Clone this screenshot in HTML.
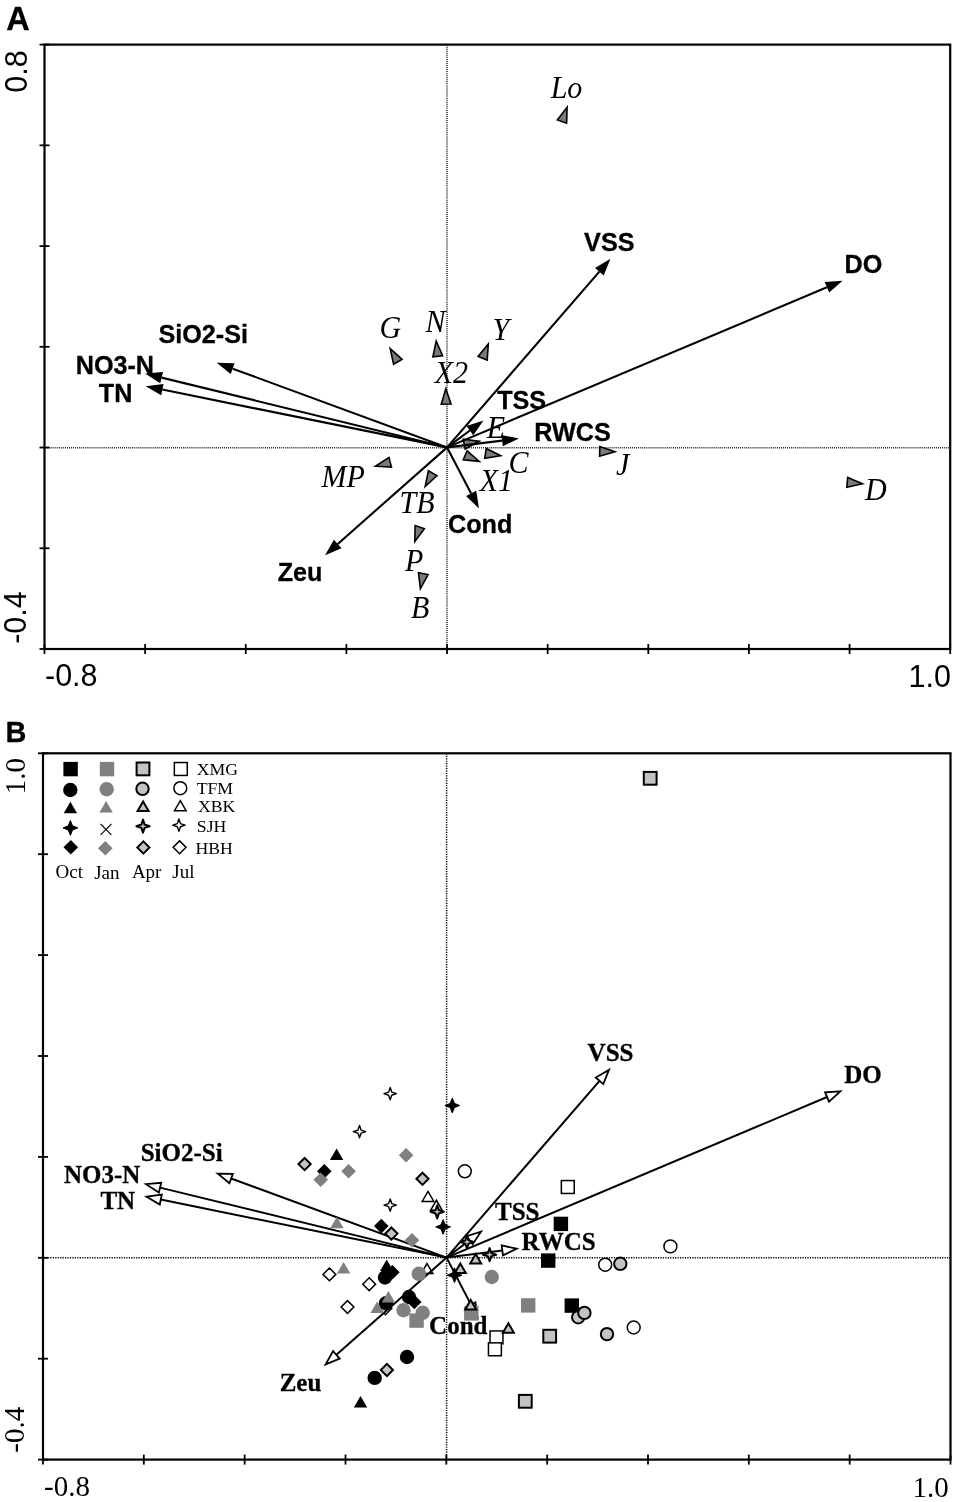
<!DOCTYPE html>
<html><head><meta charset="utf-8"><title>CCA biplot</title>
<style>html,body{margin:0;padding:0;background:#fff;width:955px;height:1502px;overflow:hidden}svg{display:block;filter:grayscale(1)}</style>
</head><body>
<svg width="955" height="1502" viewBox="0 0 955 1502">
<rect x="0" y="0" width="955" height="1502" fill="#fff"/>
<line x1="447.00" y1="44.60" x2="447.00" y2="649.00" stroke="#222" stroke-width="1.50" stroke-dasharray="1 1.04"/>
<line x1="44.50" y1="447.70" x2="950.20" y2="447.70" stroke="#222" stroke-width="1.50" stroke-dasharray="1 1.04"/>
<rect x="44.50" y="44.60" width="905.70" height="604.40" fill="none" stroke="#000" stroke-width="2.20"/>
<line x1="44.50" y1="644.00" x2="44.50" y2="654.00" stroke="#000" stroke-width="1.80" />
<line x1="145.13" y1="644.00" x2="145.13" y2="654.00" stroke="#000" stroke-width="1.80" />
<line x1="245.77" y1="644.00" x2="245.77" y2="654.00" stroke="#000" stroke-width="1.80" />
<line x1="346.40" y1="644.00" x2="346.40" y2="654.00" stroke="#000" stroke-width="1.80" />
<line x1="447.03" y1="644.00" x2="447.03" y2="654.00" stroke="#000" stroke-width="1.80" />
<line x1="547.67" y1="644.00" x2="547.67" y2="654.00" stroke="#000" stroke-width="1.80" />
<line x1="648.30" y1="644.00" x2="648.30" y2="654.00" stroke="#000" stroke-width="1.80" />
<line x1="748.93" y1="644.00" x2="748.93" y2="654.00" stroke="#000" stroke-width="1.80" />
<line x1="849.57" y1="644.00" x2="849.57" y2="654.00" stroke="#000" stroke-width="1.80" />
<line x1="950.20" y1="644.00" x2="950.20" y2="654.00" stroke="#000" stroke-width="1.80" />
<line x1="39.50" y1="44.60" x2="49.50" y2="44.60" stroke="#000" stroke-width="1.80" />
<line x1="39.50" y1="145.33" x2="49.50" y2="145.33" stroke="#000" stroke-width="1.80" />
<line x1="39.50" y1="246.07" x2="49.50" y2="246.07" stroke="#000" stroke-width="1.80" />
<line x1="39.50" y1="346.80" x2="49.50" y2="346.80" stroke="#000" stroke-width="1.80" />
<line x1="39.50" y1="447.53" x2="49.50" y2="447.53" stroke="#000" stroke-width="1.80" />
<line x1="39.50" y1="548.27" x2="49.50" y2="548.27" stroke="#000" stroke-width="1.80" />
<line x1="39.50" y1="649.00" x2="49.50" y2="649.00" stroke="#000" stroke-width="1.80" />
<text x="6.20" y="29.76" style="font-family:'Liberation Sans', sans-serif;font-weight:bold;stroke:#000;stroke-width:0.3px;font-size:32.50px">A</text>
<text x="26.52" y="92.80" transform="rotate(-90 26.52 92.80)" style="font-family:'Liberation Sans', sans-serif;font-size:30.50px">0.8</text>
<text x="26.42" y="643.81" transform="rotate(-90 26.42 643.81)" style="font-family:'Liberation Sans', sans-serif;font-size:30.50px">-0.4</text>
<text x="45.00" y="686.42" style="font-family:'Liberation Sans', sans-serif;font-size:30.50px">-0.8</text>
<text x="908.60" y="687.02" style="font-family:'Liberation Sans', sans-serif;font-size:30.50px">1.0</text>
<polygon points="567.10,107.10 566.63,123.16 557.39,119.90" fill="#7a7a7a" stroke="#000" stroke-width="1.60" />
<polygon points="390.20,348.60 402.08,359.41 393.59,364.30" fill="#7a7a7a" stroke="#000" stroke-width="1.60" />
<polygon points="436.20,341.00 442.63,355.72 432.88,356.72" fill="#7a7a7a" stroke="#000" stroke-width="1.60" />
<polygon points="488.30,344.00 487.19,360.03 478.08,356.40" fill="#7a7a7a" stroke="#000" stroke-width="1.60" />
<polygon points="445.80,388.80 451.04,403.99 441.24,404.20" fill="#7a7a7a" stroke="#000" stroke-width="1.60" />
<polygon points="479.20,441.20 465.11,448.91 463.25,439.29" fill="#7a7a7a" stroke="#000" stroke-width="1.60" />
<polygon points="479.20,461.40 463.22,459.77 467.13,450.79" fill="#7a7a7a" stroke="#000" stroke-width="1.60" />
<polygon points="500.60,455.70 484.73,458.20 486.23,448.51" fill="#7a7a7a" stroke="#000" stroke-width="1.60" />
<polygon points="615.00,451.80 599.58,456.30 599.83,446.50" fill="#7a7a7a" stroke="#000" stroke-width="1.60" />
<polygon points="862.50,483.70 846.83,487.25 847.68,477.49" fill="#7a7a7a" stroke="#000" stroke-width="1.60" />
<polygon points="375.40,466.20 388.96,457.58 391.44,467.06" fill="#7a7a7a" stroke="#000" stroke-width="1.60" />
<polygon points="425.20,486.50 428.40,470.76 436.95,475.55" fill="#7a7a7a" stroke="#000" stroke-width="1.60" />
<polygon points="414.80,541.60 415.13,525.54 424.40,528.72" fill="#7a7a7a" stroke="#000" stroke-width="1.60" />
<polygon points="420.40,588.70 418.43,572.76 428.06,574.58" fill="#7a7a7a" stroke="#000" stroke-width="1.60" />
<line x1="447.10" y1="447.40" x2="232.66" y2="368.66" stroke="#000" stroke-width="2.10" />
<polygon points="216.70,362.80 234.64,363.26 230.68,374.06" fill="#000" stroke="none" stroke-width="0.00" />
<line x1="447.10" y1="447.40" x2="161.61" y2="377.64" stroke="#000" stroke-width="2.10" />
<polygon points="145.10,373.60 162.98,372.05 160.25,383.22" fill="#000" stroke="none" stroke-width="0.00" />
<line x1="447.10" y1="447.40" x2="162.36" y2="389.58" stroke="#000" stroke-width="2.10" />
<polygon points="145.70,386.20 163.50,383.95 161.22,395.22" fill="#000" stroke="none" stroke-width="0.00" />
<line x1="447.10" y1="447.40" x2="337.74" y2="543.95" stroke="#000" stroke-width="2.10" />
<polygon points="325.00,555.20 333.94,539.64 341.55,548.26" fill="#000" stroke="none" stroke-width="0.00" />
<line x1="447.10" y1="447.40" x2="599.37" y2="271.65" stroke="#000" stroke-width="2.10" />
<polygon points="610.50,258.80 603.71,275.41 595.02,267.88" fill="#000" stroke="none" stroke-width="0.00" />
<line x1="447.10" y1="447.40" x2="826.93" y2="287.30" stroke="#000" stroke-width="2.10" />
<polygon points="842.60,280.70 829.17,292.60 824.70,282.00" fill="#000" stroke="none" stroke-width="0.00" />
<line x1="447.10" y1="447.40" x2="469.85" y2="430.53" stroke="#000" stroke-width="2.10" />
<polygon points="483.50,420.40 473.27,435.15 466.42,425.91" fill="#000" stroke="none" stroke-width="0.00" />
<line x1="447.10" y1="447.40" x2="502.13" y2="440.59" stroke="#000" stroke-width="2.10" />
<polygon points="519.00,438.50 502.84,446.29 501.42,434.88" fill="#000" stroke="none" stroke-width="0.00" />
<line x1="447.10" y1="447.40" x2="471.13" y2="493.43" stroke="#000" stroke-width="2.10" />
<polygon points="479.00,508.50 466.04,496.09 476.23,490.77" fill="#000" stroke="none" stroke-width="0.00" />
<text x="158.40" y="343.16" style="font-family:'Liberation Sans', sans-serif;font-weight:bold;stroke:#000;stroke-width:0.3px;font-size:25.20px">SiO2-Si</text>
<text x="75.70" y="373.54" style="font-family:'Liberation Sans', sans-serif;font-weight:bold;stroke:#000;stroke-width:0.3px;font-size:25.20px">NO3-N</text>
<text x="98.80" y="402.04" style="font-family:'Liberation Sans', sans-serif;font-weight:bold;stroke:#000;stroke-width:0.3px;font-size:25.20px">TN</text>
<text x="277.70" y="581.02" style="font-family:'Liberation Sans', sans-serif;font-weight:bold;stroke:#000;stroke-width:0.3px;font-size:25.20px">Zeu</text>
<text x="584.10" y="250.84" style="font-family:'Liberation Sans', sans-serif;font-weight:bold;stroke:#000;stroke-width:0.3px;font-size:25.20px">VSS</text>
<text x="844.60" y="273.14" style="font-family:'Liberation Sans', sans-serif;font-weight:bold;stroke:#000;stroke-width:0.3px;font-size:25.20px">DO</text>
<text x="497.20" y="408.99" style="font-family:'Liberation Sans', sans-serif;font-weight:bold;stroke:#000;stroke-width:0.3px;font-size:25.20px">TSS</text>
<text x="534.20" y="440.94" style="font-family:'Liberation Sans', sans-serif;font-weight:bold;stroke:#000;stroke-width:0.3px;font-size:25.20px">RWCS</text>
<text x="448.00" y="533.11" style="font-family:'Liberation Sans', sans-serif;font-weight:bold;stroke:#000;stroke-width:0.3px;font-size:25.20px">Cond</text>
<text transform="translate(550.65 97.86) scale(1 1.060)" style="font-family:'Liberation Serif', serif;font-style:italic;font-size:30.00px">Lo</text>
<text transform="translate(379.60 338.38) scale(1 1.060)" style="font-family:'Liberation Serif', serif;font-style:italic;font-size:30.00px">G</text>
<text transform="translate(425.60 332.01) scale(1 1.060)" style="font-family:'Liberation Serif', serif;font-style:italic;font-size:30.00px">N</text>
<text transform="translate(492.40 340.26) scale(1 1.060)" style="font-family:'Liberation Serif', serif;font-style:italic;font-size:30.00px">Y</text>
<text transform="translate(434.75 382.94) scale(1 1.060)" style="font-family:'Liberation Serif', serif;font-style:italic;font-size:30.00px">X2</text>
<text transform="translate(486.65 438.16) scale(1 1.060)" style="font-family:'Liberation Serif', serif;font-style:italic;font-size:30.00px">E</text>
<text transform="translate(508.60 473.33) scale(1 1.060)" style="font-family:'Liberation Serif', serif;font-style:italic;font-size:30.00px">C</text>
<text transform="translate(479.65 490.54) scale(1 1.060)" style="font-family:'Liberation Serif', serif;font-style:italic;font-size:30.00px">X1</text>
<text transform="translate(616.00 474.66) scale(1 1.060)" style="font-family:'Liberation Serif', serif;font-style:italic;font-size:30.00px">J</text>
<text transform="translate(864.95 500.48) scale(1 1.060)" style="font-family:'Liberation Serif', serif;font-style:italic;font-size:30.00px">D</text>
<text transform="translate(321.45 486.56) scale(1 1.060)" style="font-family:'Liberation Serif', serif;font-style:italic;font-size:30.00px">MP</text>
<text transform="translate(399.60 512.63) scale(1 1.060)" style="font-family:'Liberation Serif', serif;font-style:italic;font-size:30.00px">TB</text>
<text transform="translate(405.00 571.36) scale(1 1.060)" style="font-family:'Liberation Serif', serif;font-style:italic;font-size:30.00px">P</text>
<text transform="translate(411.00 618.38) scale(1 1.060)" style="font-family:'Liberation Serif', serif;font-style:italic;font-size:30.00px">B</text>
<line x1="446.60" y1="753.30" x2="446.60" y2="1459.60" stroke="#000" stroke-width="1.50" stroke-dasharray="1.2 1.25"/>
<line x1="43.00" y1="1257.70" x2="950.50" y2="1257.70" stroke="#000" stroke-width="1.50" stroke-dasharray="1.2 1.25"/>
<rect x="43.00" y="753.30" width="907.50" height="706.30" fill="none" stroke="#000" stroke-width="2.20"/>
<line x1="43.00" y1="1454.60" x2="43.00" y2="1464.60" stroke="#000" stroke-width="1.80" />
<line x1="143.83" y1="1454.60" x2="143.83" y2="1464.60" stroke="#000" stroke-width="1.80" />
<line x1="244.67" y1="1454.60" x2="244.67" y2="1464.60" stroke="#000" stroke-width="1.80" />
<line x1="345.50" y1="1454.60" x2="345.50" y2="1464.60" stroke="#000" stroke-width="1.80" />
<line x1="446.33" y1="1454.60" x2="446.33" y2="1464.60" stroke="#000" stroke-width="1.80" />
<line x1="547.17" y1="1454.60" x2="547.17" y2="1464.60" stroke="#000" stroke-width="1.80" />
<line x1="648.00" y1="1454.60" x2="648.00" y2="1464.60" stroke="#000" stroke-width="1.80" />
<line x1="748.83" y1="1454.60" x2="748.83" y2="1464.60" stroke="#000" stroke-width="1.80" />
<line x1="849.67" y1="1454.60" x2="849.67" y2="1464.60" stroke="#000" stroke-width="1.80" />
<line x1="950.50" y1="1454.60" x2="950.50" y2="1464.60" stroke="#000" stroke-width="1.80" />
<line x1="38.00" y1="753.30" x2="48.00" y2="753.30" stroke="#000" stroke-width="1.80" />
<line x1="38.00" y1="854.20" x2="48.00" y2="854.20" stroke="#000" stroke-width="1.80" />
<line x1="38.00" y1="955.10" x2="48.00" y2="955.10" stroke="#000" stroke-width="1.80" />
<line x1="38.00" y1="1056.00" x2="48.00" y2="1056.00" stroke="#000" stroke-width="1.80" />
<line x1="38.00" y1="1156.90" x2="48.00" y2="1156.90" stroke="#000" stroke-width="1.80" />
<line x1="38.00" y1="1257.80" x2="48.00" y2="1257.80" stroke="#000" stroke-width="1.80" />
<line x1="38.00" y1="1358.70" x2="48.00" y2="1358.70" stroke="#000" stroke-width="1.80" />
<line x1="38.00" y1="1459.60" x2="48.00" y2="1459.60" stroke="#000" stroke-width="1.80" />
<text x="5.40" y="741.82" style="font-family:'Liberation Sans', sans-serif;font-weight:bold;stroke:#000;stroke-width:0.3px;font-size:28.89px">B</text>
<text x="24.52" y="794.33" transform="rotate(-90 24.52 794.33)" style="font-family:'Liberation Serif', serif;font-size:29.00px">1.0</text>
<text x="23.88" y="1452.73" transform="rotate(-90 23.88 1452.73)" style="font-family:'Liberation Serif', serif;font-size:29.00px">-0.4</text>
<text x="44.00" y="1495.92" style="font-family:'Liberation Serif', serif;font-size:29.00px">-0.8</text>
<text x="912.40" y="1496.52" style="font-family:'Liberation Serif', serif;font-size:29.00px">1.0</text>
<rect x="63.40" y="761.90" width="14.40" height="14.40" fill="#000" stroke="none" stroke-width="0.00"/>
<rect x="99.80" y="761.90" width="14.40" height="14.40" fill="#808080" stroke="none" stroke-width="0.00"/>
<rect x="136.60" y="762.50" width="12.80" height="12.80" fill="#c3c3c3" stroke="#000" stroke-width="2.00"/>
<rect x="174.35" y="762.55" width="12.90" height="12.90" fill="#fff" stroke="#000" stroke-width="1.50"/>
<circle cx="70.30" cy="790.00" r="7.20" fill="#000" stroke="none" stroke-width="0.00"/>
<circle cx="106.70" cy="789.20" r="7.20" fill="#808080" stroke="none" stroke-width="0.00"/>
<circle cx="142.50" cy="788.80" r="6.20" fill="#c3c3c3" stroke="#000" stroke-width="2.00"/>
<circle cx="180.30" cy="788.20" r="6.45" fill="#fff" stroke="#000" stroke-width="1.50"/>
<polygon points="70.40,801.70 77.10,813.20 63.70,813.20" fill="#000" stroke="none" stroke-width="0.00" />
<polygon points="106.10,801.10 112.80,812.60 99.40,812.60" fill="#808080" stroke="none" stroke-width="0.00" />
<polygon points="143.10,801.50 148.60,811.00 137.60,811.00" fill="#c3c3c3" stroke="#000" stroke-width="2.00" />
<polygon points="180.30,800.65 186.10,810.65 174.50,810.65" fill="#fff" stroke="#000" stroke-width="1.50" />
<polygon points="70.40,820.50 72.52,825.78 77.80,827.90 72.52,830.02 70.40,835.30 68.28,830.02 63.00,827.90 68.28,825.78" fill="#000" stroke="#000" stroke-width="1.00" stroke-linejoin="round"/>
<line x1="100.60" y1="824.00" x2="111.40" y2="834.80" stroke="#111" stroke-width="1.20" />
<line x1="100.60" y1="834.80" x2="111.40" y2="824.00" stroke="#111" stroke-width="1.20" />
<polygon points="143.00,819.60 144.63,824.57 149.60,826.20 144.63,827.83 143.00,832.80 141.37,827.83 136.40,826.20 141.37,824.57" fill="#c3c3c3" stroke="#000" stroke-width="2.00" stroke-linejoin="round"/>
<polygon points="178.90,819.00 180.46,823.64 185.10,825.20 180.46,826.76 178.90,831.40 177.34,826.76 172.70,825.20 177.34,823.64" fill="#fff" stroke="#000" stroke-width="1.40" stroke-linejoin="round"/>
<polygon points="70.80,840.00 78.10,847.30 70.80,854.60 63.50,847.30" fill="#000" stroke="none" stroke-width="0.00" />
<polygon points="105.30,840.90 112.60,848.20 105.30,855.50 98.00,848.20" fill="#808080" stroke="none" stroke-width="0.00" />
<polygon points="143.40,841.40 149.50,847.50 143.40,853.60 137.30,847.50" fill="#c3c3c3" stroke="#000" stroke-width="2.00" />
<polygon points="179.60,840.90 186.00,847.30 179.60,853.70 173.20,847.30" fill="#fff" stroke="#000" stroke-width="1.50" />
<text x="196.70" y="774.50" style="font-family:'Liberation Serif', serif;font-size:17.70px">XMG</text>
<text x="196.70" y="794.45" style="font-family:'Liberation Serif', serif;font-size:17.70px">TFM</text>
<text x="197.90" y="812.30" style="font-family:'Liberation Serif', serif;font-size:17.70px">XBK</text>
<text x="196.80" y="831.75" style="font-family:'Liberation Serif', serif;font-size:17.70px">SJH</text>
<text x="195.40" y="854.05" style="font-family:'Liberation Serif', serif;font-size:17.70px">HBH</text>
<text x="55.50" y="877.72" style="font-family:'Liberation Serif', serif;font-size:19.00px">Oct</text>
<text x="94.20" y="879.03" style="font-family:'Liberation Serif', serif;font-size:19.00px">Jan</text>
<text x="131.90" y="878.08" style="font-family:'Liberation Serif', serif;font-size:19.00px">Apr</text>
<text x="172.30" y="878.06" style="font-family:'Liberation Serif', serif;font-size:19.00px">Jul</text>
<rect x="561.35" y="1180.55" width="12.90" height="12.90" fill="#fff" stroke="#000" stroke-width="1.50"/>
<rect x="490.05" y="1330.95" width="12.90" height="12.90" fill="#fff" stroke="#000" stroke-width="1.50"/>
<rect x="488.45" y="1342.85" width="12.90" height="12.90" fill="#fff" stroke="#000" stroke-width="1.50"/>
<circle cx="464.80" cy="1171.30" r="6.45" fill="#fff" stroke="#000" stroke-width="1.50"/>
<circle cx="670.40" cy="1246.40" r="6.45" fill="#fff" stroke="#000" stroke-width="1.50"/>
<circle cx="605.20" cy="1264.70" r="6.45" fill="#fff" stroke="#000" stroke-width="1.50"/>
<circle cx="633.70" cy="1327.50" r="6.45" fill="#fff" stroke="#000" stroke-width="1.50"/>
<polygon points="428.00,1191.45 433.80,1201.45 422.20,1201.45" fill="#fff" stroke="#000" stroke-width="1.50" />
<polygon points="436.40,1200.25 442.20,1210.25 430.60,1210.25" fill="#fff" stroke="#000" stroke-width="1.50" />
<polygon points="427.00,1263.55 432.80,1273.55 421.20,1273.55" fill="#fff" stroke="#000" stroke-width="1.50" />
<polygon points="390.20,1087.50 391.76,1092.14 396.40,1093.70 391.76,1095.26 390.20,1099.90 388.64,1095.26 384.00,1093.70 388.64,1092.14" fill="#fff" stroke="#000" stroke-width="1.40" stroke-linejoin="round"/>
<polygon points="359.50,1125.40 361.06,1130.04 365.70,1131.60 361.06,1133.16 359.50,1137.80 357.94,1133.16 353.30,1131.60 357.94,1130.04" fill="#fff" stroke="#000" stroke-width="1.40" stroke-linejoin="round"/>
<polygon points="390.20,1198.90 391.76,1203.54 396.40,1205.10 391.76,1206.66 390.20,1211.30 388.64,1206.66 384.00,1205.10 388.64,1203.54" fill="#fff" stroke="#000" stroke-width="1.40" stroke-linejoin="round"/>
<polygon points="329.40,1268.00 335.80,1274.40 329.40,1280.80 323.00,1274.40" fill="#fff" stroke="#000" stroke-width="1.50" />
<polygon points="369.20,1277.80 375.60,1284.20 369.20,1290.60 362.80,1284.20" fill="#fff" stroke="#000" stroke-width="1.50" />
<polygon points="347.50,1300.60 353.90,1307.00 347.50,1313.40 341.10,1307.00" fill="#fff" stroke="#000" stroke-width="1.50" />
<polygon points="385.40,1301.90 391.80,1308.30 385.40,1314.70 379.00,1308.30" fill="#fff" stroke="#000" stroke-width="1.50" />
<line x1="446.60" y1="1257.60" x2="231.12" y2="1178.51" stroke="#000" stroke-width="2.00" />
<polygon points="217.60,1173.55 232.84,1173.82 229.40,1183.21" fill="#fff" stroke="#000" stroke-width="1.80" />
<line x1="446.60" y1="1257.60" x2="160.04" y2="1187.60" stroke="#000" stroke-width="2.00" />
<polygon points="146.05,1184.18 161.23,1182.74 158.86,1192.45" fill="#fff" stroke="#000" stroke-width="1.80" />
<line x1="446.60" y1="1257.60" x2="160.78" y2="1199.58" stroke="#000" stroke-width="2.00" />
<polygon points="146.67,1196.72 161.77,1194.68 159.79,1204.48" fill="#fff" stroke="#000" stroke-width="1.80" />
<line x1="446.60" y1="1257.60" x2="336.40" y2="1354.82" stroke="#000" stroke-width="2.00" />
<polygon points="325.60,1364.34 333.09,1351.07 339.71,1358.56" fill="#fff" stroke="#000" stroke-width="1.80" />
<line x1="446.60" y1="1257.60" x2="599.53" y2="1080.80" stroke="#000" stroke-width="2.00" />
<polygon points="608.95,1069.91 603.31,1084.07 595.75,1077.53" fill="#fff" stroke="#000" stroke-width="1.80" />
<line x1="446.60" y1="1257.60" x2="827.06" y2="1097.02" stroke="#000" stroke-width="2.00" />
<polygon points="840.33,1091.42 829.00,1101.63 825.11,1092.42" fill="#fff" stroke="#000" stroke-width="1.80" />
<line x1="446.60" y1="1257.60" x2="469.63" y2="1240.23" stroke="#000" stroke-width="2.00" />
<polygon points="481.12,1231.56 472.64,1244.23 466.62,1236.24" fill="#fff" stroke="#000" stroke-width="1.80" />
<line x1="446.60" y1="1257.60" x2="502.33" y2="1250.44" stroke="#000" stroke-width="2.00" />
<polygon points="516.61,1248.60 502.97,1255.40 501.69,1245.48" fill="#fff" stroke="#000" stroke-width="1.80" />
<line x1="446.60" y1="1257.60" x2="470.94" y2="1304.59" stroke="#000" stroke-width="2.00" />
<polygon points="477.56,1317.38 466.50,1306.89 475.38,1302.29" fill="#fff" stroke="#000" stroke-width="1.80" />
<rect x="643.80" y="771.90" width="12.80" height="12.80" fill="#c3c3c3" stroke="#000" stroke-width="2.00"/>
<rect x="553.70" y="1216.70" width="14.40" height="14.40" fill="#000" stroke="none" stroke-width="0.00"/>
<rect x="541.00" y="1253.40" width="14.40" height="14.40" fill="#000" stroke="none" stroke-width="0.00"/>
<rect x="564.60" y="1298.40" width="14.40" height="14.40" fill="#000" stroke="none" stroke-width="0.00"/>
<rect x="521.00" y="1298.20" width="14.40" height="14.40" fill="#808080" stroke="none" stroke-width="0.00"/>
<rect x="464.10" y="1306.20" width="14.40" height="14.40" fill="#808080" stroke="none" stroke-width="0.00"/>
<rect x="409.40" y="1313.40" width="14.40" height="14.40" fill="#808080" stroke="none" stroke-width="0.00"/>
<rect x="543.30" y="1329.80" width="12.80" height="12.80" fill="#c3c3c3" stroke="#000" stroke-width="2.00"/>
<rect x="518.90" y="1394.90" width="12.80" height="12.80" fill="#c3c3c3" stroke="#000" stroke-width="2.00"/>
<circle cx="620.30" cy="1263.80" r="6.20" fill="#c3c3c3" stroke="#000" stroke-width="2.00"/>
<circle cx="491.80" cy="1277.00" r="7.20" fill="#808080" stroke="none" stroke-width="0.00"/>
<circle cx="418.80" cy="1273.80" r="7.20" fill="#808080" stroke="none" stroke-width="0.00"/>
<circle cx="385.00" cy="1277.50" r="7.20" fill="#000" stroke="none" stroke-width="0.00"/>
<circle cx="409.00" cy="1297.00" r="7.20" fill="#000" stroke="none" stroke-width="0.00"/>
<circle cx="403.50" cy="1310.20" r="7.20" fill="#808080" stroke="none" stroke-width="0.00"/>
<circle cx="422.70" cy="1312.80" r="7.20" fill="#808080" stroke="none" stroke-width="0.00"/>
<circle cx="578.20" cy="1317.20" r="6.20" fill="#c3c3c3" stroke="#000" stroke-width="2.00"/>
<circle cx="584.40" cy="1312.90" r="6.20" fill="#c3c3c3" stroke="#000" stroke-width="2.00"/>
<circle cx="607.00" cy="1334.10" r="6.20" fill="#c3c3c3" stroke="#000" stroke-width="2.00"/>
<circle cx="407.00" cy="1357.00" r="7.20" fill="#000" stroke="none" stroke-width="0.00"/>
<circle cx="374.70" cy="1377.90" r="7.20" fill="#000" stroke="none" stroke-width="0.00"/>
<circle cx="386.00" cy="1303.30" r="7.20" fill="#000" stroke="none" stroke-width="0.00"/>
<polygon points="336.60,1148.60 343.30,1160.10 329.90,1160.10" fill="#000" stroke="none" stroke-width="0.00" />
<polygon points="336.90,1216.70 343.60,1228.20 330.20,1228.20" fill="#808080" stroke="none" stroke-width="0.00" />
<polygon points="343.60,1262.00 350.30,1273.50 336.90,1273.50" fill="#808080" stroke="none" stroke-width="0.00" />
<polygon points="386.70,1259.50 393.40,1271.00 380.00,1271.00" fill="#000" stroke="none" stroke-width="0.00" />
<polygon points="460.30,1263.60 465.80,1273.10 454.80,1273.10" fill="#c3c3c3" stroke="#000" stroke-width="2.00" />
<polygon points="475.70,1254.10 481.20,1263.60 470.20,1263.60" fill="#c3c3c3" stroke="#000" stroke-width="2.00" />
<polygon points="388.40,1291.00 395.10,1302.50 381.70,1302.50" fill="#808080" stroke="none" stroke-width="0.00" />
<polygon points="377.10,1301.50 383.80,1313.00 370.40,1313.00" fill="#808080" stroke="none" stroke-width="0.00" />
<polygon points="470.70,1300.00 476.20,1309.50 465.20,1309.50" fill="#c3c3c3" stroke="#000" stroke-width="2.00" />
<polygon points="508.40,1323.30 513.90,1332.80 502.90,1332.80" fill="#c3c3c3" stroke="#000" stroke-width="2.00" />
<polygon points="360.50,1395.90 367.20,1407.40 353.80,1407.40" fill="#000" stroke="none" stroke-width="0.00" />
<polygon points="452.30,1098.10 454.42,1103.38 459.70,1105.50 454.42,1107.62 452.30,1112.90 450.18,1107.62 444.90,1105.50 450.18,1103.38" fill="#000" stroke="#000" stroke-width="1.00" stroke-linejoin="round"/>
<polygon points="437.20,1205.20 438.83,1210.17 443.80,1211.80 438.83,1213.43 437.20,1218.40 435.57,1213.43 430.60,1211.80 435.57,1210.17" fill="#c3c3c3" stroke="#000" stroke-width="2.00" stroke-linejoin="round"/>
<polygon points="443.10,1219.50 445.22,1224.78 450.50,1226.90 445.22,1229.02 443.10,1234.30 440.98,1229.02 435.70,1226.90 440.98,1224.78" fill="#000" stroke="#000" stroke-width="1.00" stroke-linejoin="round"/>
<polygon points="467.00,1235.40 468.63,1240.37 473.60,1242.00 468.63,1243.63 467.00,1248.60 465.37,1243.63 460.40,1242.00 465.37,1240.37" fill="#c3c3c3" stroke="#000" stroke-width="2.00" stroke-linejoin="round"/>
<polygon points="489.60,1248.10 491.23,1253.07 496.20,1254.70 491.23,1256.33 489.60,1261.30 487.97,1256.33 483.00,1254.70 487.97,1253.07" fill="#c3c3c3" stroke="#000" stroke-width="2.00" stroke-linejoin="round"/>
<polygon points="454.50,1267.80 456.62,1273.08 461.90,1275.20 456.62,1277.32 454.50,1282.60 452.38,1277.32 447.10,1275.20 452.38,1273.08" fill="#000" stroke="#000" stroke-width="1.00" stroke-linejoin="round"/>
<polygon points="304.60,1158.00 310.70,1164.10 304.60,1170.20 298.50,1164.10" fill="#c3c3c3" stroke="#000" stroke-width="2.00" />
<polygon points="324.30,1164.00 331.60,1171.30 324.30,1178.60 317.00,1171.30" fill="#000" stroke="none" stroke-width="0.00" />
<polygon points="320.70,1172.40 328.00,1179.70 320.70,1187.00 313.40,1179.70" fill="#808080" stroke="none" stroke-width="0.00" />
<polygon points="348.60,1164.00 355.90,1171.30 348.60,1178.60 341.30,1171.30" fill="#808080" stroke="none" stroke-width="0.00" />
<polygon points="406.10,1147.90 413.40,1155.20 406.10,1162.50 398.80,1155.20" fill="#808080" stroke="none" stroke-width="0.00" />
<polygon points="422.50,1172.70 428.60,1178.80 422.50,1184.90 416.40,1178.80" fill="#c3c3c3" stroke="#000" stroke-width="2.00" />
<polygon points="381.30,1218.80 388.60,1226.10 381.30,1233.40 374.00,1226.10" fill="#000" stroke="none" stroke-width="0.00" />
<polygon points="391.40,1227.50 397.50,1233.60 391.40,1239.70 385.30,1233.60" fill="#c3c3c3" stroke="#000" stroke-width="2.00" />
<polygon points="412.00,1233.00 419.30,1240.30 412.00,1247.60 404.70,1240.30" fill="#808080" stroke="none" stroke-width="0.00" />
<polygon points="392.40,1264.90 399.70,1272.20 392.40,1279.50 385.10,1272.20" fill="#000" stroke="none" stroke-width="0.00" />
<polygon points="414.30,1294.70 421.60,1302.00 414.30,1309.30 407.00,1302.00" fill="#000" stroke="none" stroke-width="0.00" />
<polygon points="386.90,1363.90 393.00,1370.00 386.90,1376.10 380.80,1370.00" fill="#c3c3c3" stroke="#000" stroke-width="2.00" />
<text x="140.70" y="1160.51" style="font-family:'Liberation Serif', serif;font-weight:bold;stroke:#000;stroke-width:0.3px;font-size:25.00px">SiO2-Si</text>
<text x="64.00" y="1183.28" style="font-family:'Liberation Serif', serif;font-weight:bold;stroke:#000;stroke-width:0.3px;font-size:25.00px">NO3-N</text>
<text x="100.40" y="1209.14" style="font-family:'Liberation Serif', serif;font-weight:bold;stroke:#000;stroke-width:0.3px;font-size:25.00px">TN</text>
<text x="587.60" y="1060.76" style="font-family:'Liberation Serif', serif;font-weight:bold;stroke:#000;stroke-width:0.3px;font-size:25.00px">VSS</text>
<text x="844.30" y="1083.03" style="font-family:'Liberation Serif', serif;font-weight:bold;stroke:#000;stroke-width:0.3px;font-size:25.00px">DO</text>
<text x="495.00" y="1220.28" style="font-family:'Liberation Serif', serif;font-weight:bold;stroke:#000;stroke-width:0.3px;font-size:25.00px">TSS</text>
<text x="521.60" y="1249.91" style="font-family:'Liberation Serif', serif;font-weight:bold;stroke:#000;stroke-width:0.3px;font-size:25.00px">RWCS</text>
<text x="429.10" y="1333.96" style="font-family:'Liberation Serif', serif;font-weight:bold;stroke:#000;stroke-width:0.3px;font-size:25.00px">Cond</text>
<text x="279.70" y="1390.56" style="font-family:'Liberation Serif', serif;font-weight:bold;stroke:#000;stroke-width:0.3px;font-size:25.00px">Zeu</text>
</svg>
</body></html>
